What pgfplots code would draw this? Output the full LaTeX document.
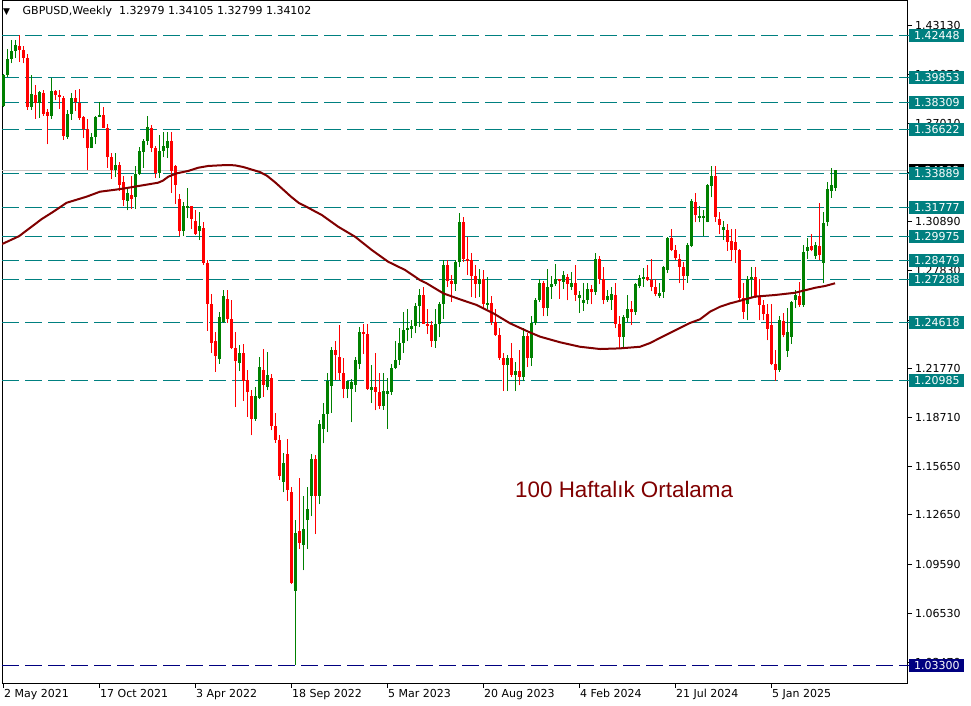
\documentclass[border=0pt]{standalone}
\usepackage{fontspec}
\setmainfont{DejaVu Sans}
\newfontfamily\arialf{Liberation Sans}
\usepackage{pgfplots}
\usepackage{pgfplotstable}
\pgfplotsset{compat=1.18}
\definecolor{mtteal}{HTML}{008080}
\definecolor{mtnavy}{HTML}{000080}
\definecolor{bull}{HTML}{008000}
\definecolor{bear}{HTML}{FF0000}
\definecolor{maline}{HTML}{800000}
\definecolor{matext}{HTML}{800000}

% weekly GBPUSD candles, i = week index from 2 May 2021
\pgfplotstableread{
i O H L C
0 1.3810 1.4010 1.3800 1.4000
1 1.4000 1.4167 1.3990 1.4100
2 1.4100 1.4220 1.4075 1.4150
3 1.4150 1.4220 1.4110 1.4190
4 1.4185 1.4250 1.4085 1.4160
5 1.4160 1.4180 1.4075 1.4110
6 1.4110 1.4135 1.3787 1.3800
7 1.3800 1.4000 1.3785 1.3885
8 1.3880 1.3940 1.3730 1.3830
9 1.3830 1.3900 1.3735 1.3895
10 1.3890 1.3910 1.3750 1.3760
11 1.3770 1.3790 1.3570 1.3745
12 1.3745 1.3985 1.3730 1.3905
13 1.3905 1.3910 1.3845 1.3875
14 1.3875 1.3910 1.3790 1.3865
15 1.3860 1.3870 1.3600 1.3620
16 1.3615 1.3785 1.3605 1.3760
17 1.3760 1.3890 1.3725 1.3860
18 1.3860 1.3910 1.3780 1.3835
19 1.3830 1.3915 1.3725 1.3735
20 1.3740 1.3750 1.3610 1.3665
21 1.3665 1.3730 1.3410 1.3545
22 1.3550 1.3640 1.3545 1.3615
23 1.3615 1.3745 1.3570 1.3740
24 1.3745 1.3835 1.3740 1.3755
25 1.3755 1.3800 1.3670 1.3675
26 1.3675 1.3700 1.3425 1.3495
27 1.3490 1.3515 1.3355 1.3410
28 1.3410 1.3515 1.3370 1.3445
29 1.3445 1.3460 1.3280 1.3320
30 1.3335 1.3375 1.3190 1.3225
31 1.3215 1.3300 1.3160 1.3270
32 1.3255 1.3375 1.3170 1.3230
33 1.3240 1.3435 1.3170 1.3385
34 1.3385 1.3555 1.3380 1.3530
35 1.3520 1.3605 1.3425 1.3590
36 1.3590 1.3750 1.3565 1.3680
37 1.3675 1.3690 1.3520 1.3550
38 1.3550 1.3560 1.3360 1.3395
39 1.3390 1.3630 1.3360 1.3530
40 1.3530 1.3645 1.3490 1.3560
41 1.3545 1.3645 1.3485 1.3590
42 1.3590 1.3645 1.3270 1.3405
43 1.3435 1.3440 1.3200 1.3320
44 1.3230 1.3260 1.3000 1.3030
45 1.3030 1.3210 1.3000 1.3185
46 1.3175 1.3300 1.3110 1.3185
47 1.3185 1.3190 1.3045 1.3105
48 1.3095 1.3160 1.3005 1.3010
49 1.3030 1.3150 1.2975 1.3065
50 1.3050 1.3090 1.2820 1.2830
51 1.2830 1.2850 1.2410 1.2575
52 1.2575 1.2640 1.2275 1.2335
53 1.2345 1.2405 1.2155 1.2255
54 1.2235 1.2525 1.2205 1.2495
55 1.2465 1.2665 1.2460 1.2630
56 1.2610 1.2665 1.2460 1.2485
57 1.2485 1.2600 1.2295 1.2305
58 1.2305 1.2405 1.1935 1.2220
59 1.2210 1.2325 1.2160 1.2270
60 1.2275 1.2330 1.1975 1.2095
61 1.2105 1.2165 1.1875 1.2030
62 1.2005 1.2045 1.1760 1.1860
63 1.1860 1.2060 1.1850 1.2005
64 1.1995 1.2245 1.1985 1.2185
65 1.2165 1.2295 1.2000 1.2070
66 1.2060 1.2280 1.2040 1.2135
67 1.2115 1.2140 1.1790 1.1820
68 1.1820 1.1900 1.1715 1.1730
69 1.1730 1.1760 1.1485 1.1505
70 1.1470 1.1650 1.1405 1.1585
71 1.1645 1.1740 1.1350 1.1420
72 1.1410 1.1440 1.0835 1.0840
73 1.0790 1.1235 1.0330 1.1150
74 1.1165 1.1495 1.1055 1.1090
75 1.1080 1.1385 1.0920 1.1175
76 1.1230 1.1440 1.1055 1.1300
77 1.1380 1.1645 1.1255 1.1615
78 1.1610 1.1640 1.1145 1.1380
79 1.1385 1.1855 1.1330 1.1830
80 1.1800 1.1960 1.1710 1.1890
81 1.1890 1.2150 1.1780 1.2095
82 1.2065 1.2310 1.1900 1.2290
83 1.2290 1.2345 1.2105 1.2260
84 1.2250 1.2445 1.2105 1.2150
85 1.2145 1.2240 1.1990 1.2050
86 1.2050 1.2085 1.1990 1.2095
87 1.2050 1.2110 1.1840 1.2090
88 1.2075 1.2245 1.2030 1.2230
89 1.2205 1.2435 1.2170 1.2400
90 1.2402 1.2450 1.2265 1.2393
91 1.2393 1.2450 1.2045 1.2050
92 1.2040 1.2195 1.1960 1.2060
93 1.2060 1.2270 1.1915 1.2030
94 1.2030 1.2150 1.1925 1.1945
95 1.1945 1.2145 1.1920 1.2035
96 1.2020 1.2115 1.1800 1.2035
97 1.2030 1.2205 1.2010 1.2180
98 1.2180 1.2345 1.2170 1.2230
99 1.2230 1.2425 1.2200 1.2335
100 1.2335 1.2525 1.2275 1.2415
101 1.2415 1.2545 1.2345 1.2425
102 1.2420 1.2475 1.2365 1.2440
103 1.2440 1.2585 1.2395 1.2565
104 1.2565 1.2670 1.2435 1.2635
105 1.2635 1.2680 1.2460 1.2450
106 1.2450 1.2545 1.2390 1.2440
107 1.2445 1.2470 1.2310 1.2345
108 1.2345 1.2545 1.2305 1.2450
109 1.2450 1.2590 1.2370 1.2575
110 1.2575 1.2850 1.2485 1.2820
111 1.2820 1.2850 1.2685 1.2720
112 1.2720 1.2760 1.2590 1.2700
113 1.2700 1.2850 1.2660 1.2840
114 1.2840 1.3145 1.2810 1.3090
115 1.3090 1.3120 1.2840 1.2855
116 1.2855 1.2995 1.2760 1.2850
117 1.2850 1.2895 1.2620 1.2750
118 1.2750 1.2820 1.2615 1.2700
119 1.2700 1.2795 1.2620 1.2735
120 1.2735 1.2790 1.2550 1.2575
121 1.2575 1.2745 1.2545 1.2585
122 1.2585 1.2625 1.2445 1.2465
123 1.2465 1.2545 1.2380 1.2385
124 1.2385 1.2425 1.2230 1.2240
125 1.2240 1.2270 1.2035 1.2200
126 1.2200 1.2260 1.2035 1.2240
127 1.2240 1.2335 1.2125 1.2135
128 1.2135 1.2215 1.2035 1.2160
129 1.2160 1.2290 1.2070 1.2125
130 1.2125 1.2430 1.2095 1.2375
131 1.2375 1.2395 1.2185 1.2240
132 1.2240 1.2505 1.2190 1.2460
133 1.2460 1.2615 1.2445 1.2605
134 1.2605 1.2735 1.2590 1.2705
135 1.2705 1.2720 1.2500 1.2550
136 1.2550 1.2795 1.2500 1.2680
137 1.2680 1.2750 1.2610 1.2700
138 1.2700 1.2825 1.2690 1.2730
139 1.2730 1.2735 1.2610 1.2720
140 1.2715 1.2785 1.2670 1.2755
141 1.2745 1.2765 1.2600 1.2700
142 1.2680 1.2775 1.2665 1.2705
143 1.2705 1.2820 1.2595 1.2635
144 1.2615 1.2660 1.2520 1.2635
145 1.2585 1.2710 1.2535 1.2605
146 1.2600 1.2710 1.2575 1.2670
147 1.2670 1.2695 1.2575 1.2650
148 1.2650 1.2895 1.2635 1.2855
149 1.2855 1.2875 1.2700 1.2735
150 1.2735 1.2805 1.2575 1.2600
151 1.2600 1.2665 1.2590 1.2625
152 1.2605 1.2680 1.2540 1.2640
153 1.2635 1.2710 1.2425 1.2450
154 1.2450 1.2500 1.2300 1.2370
155 1.2370 1.2510 1.2300 1.2495
156 1.2490 1.2635 1.2465 1.2545
157 1.2545 1.2595 1.2445 1.2525
158 1.2525 1.2710 1.2510 1.2700
159 1.2690 1.2760 1.2675 1.2740
160 1.2735 1.2800 1.2685 1.2745
161 1.2745 1.2820 1.2720 1.2725
162 1.2725 1.2860 1.2655 1.2685
163 1.2685 1.2735 1.2625 1.2640
164 1.2630 1.2710 1.2615 1.2645
165 1.2650 1.2815 1.2615 1.2810
166 1.2790 1.2995 1.2770 1.2985
167 1.2985 1.3045 1.2905 1.2915
168 1.2915 1.2945 1.2850 1.2865
169 1.2860 1.2890 1.2705 1.2805
170 1.2810 1.2840 1.2665 1.2750
171 1.2750 1.2955 1.2710 1.2945
172 1.2935 1.3230 1.2930 1.3215
173 1.3210 1.3265 1.3085 1.3130
174 1.3115 1.3190 1.3085 1.3125
175 1.3115 1.3165 1.3000 1.3125
176 1.3090 1.3325 1.3085 1.3320
177 1.3310 1.3435 1.3240 1.3375
178 1.3375 1.3435 1.3090 1.3120
179 1.3105 1.3150 1.3010 1.3070
180 1.3040 1.3095 1.2975 1.3055
181 1.3035 1.3075 1.2910 1.2960
182 1.2968 1.3045 1.2845 1.2915
183 1.2960 1.3045 1.2835 1.2915
184 1.2915 1.2920 1.2600 1.2615
185 1.2615 1.2710 1.2485 1.2530
186 1.2580 1.2750 1.2475 1.2735
187 1.2735 1.2810 1.2615 1.2745
188 1.2745 1.2810 1.2615 1.2620
189 1.2620 1.2730 1.2475 1.2570
190 1.2570 1.2605 1.2475 1.2515
191 1.2515 1.2575 1.2350 1.2420
192 1.2445 1.2575 1.2195 1.2205
193 1.2205 1.2290 1.2100 1.2165
194 1.2165 1.2500 1.2155 1.2480
195 1.2470 1.2520 1.2370 1.2385
196 1.2285 1.2550 1.2250 1.2405
197 1.2370 1.2595 1.2330 1.2590
198 1.2605 1.2665 1.2550 1.2635
199 1.2630 1.2715 1.2560 1.2570
200 1.2570 1.2945 1.2560 1.2900
201 1.2910 1.2990 1.2860 1.2935
202 1.2935 1.3015 1.2905 1.2915
203 1.2875 1.2965 1.2860 1.2945
204 1.2935 1.3205 1.2850 1.2885
205 1.2830 1.3150 1.2705 1.3080
206 1.3085 1.3335 1.3060 1.3295
207 1.3278 1.3421 1.3237 1.3318
208 1.32979 1.34105 1.32799 1.34102
}\candles

\pgfplotsset{
  candle/.style={draw=none, mark=none},
}
\tikzset{
  boxlabel/.style={text=white, anchor=west, inner xsep=5pt, inner ysep=0pt, text width=45pt, minimum height=13pt, text height=8pt, text depth=0pt},
}

\begin{document}
\fontsize{11}{13}\selectfont
\begin{tikzpicture}
\useasboundingbox (-2pt,-22pt) rectangle (969pt,683pt);
\fill[white] (-2pt,-22pt) rectangle (969pt,683pt);
\begin{axis}[
    at={(0pt,0pt)}, anchor=south west,
    scale only axis, width=905pt, height=682pt,
    xmin=-0.25, xmax=226, ymin=1.02187, ymax=1.44626,
    axis line style={black, line width=1pt},
    xtick={0,24,...,192}, xticklabel=\empty,
    ytick={1.43130,1.40070,1.37010,1.33950,1.30890,1.27830,1.24770,1.21770,1.18710,1.15650,1.12650,1.09590,1.06530,1.03470},
    yticklabel=\empty,
    xtick pos=bottom, ytick pos=right,
    tick align=outside, major tick length=5pt,
    tick style={black, line width=1pt},
    clip mode=individual,
]
% support / resistance levels
\pgfplotsinvokeforeach{1.42448,1.39853,1.38309,1.36622,1.33889,1.31777,1.29975,1.28479,1.27288,1.24618,1.20985}{
  \addplot[mtteal, line width=1pt, dash pattern=on 17pt off 6pt] coordinates {(-0.25,#1) (226,#1)};
}
\addplot[mtnavy, line width=1pt, dash pattern=on 17pt off 6pt] coordinates {(-0.25,1.03300) (226,1.03300)};
% bid line
\addplot[black!22, line width=1pt] coordinates {(-0.25,1.34102) (226,1.34102)};

% wicks
\addplot[candle, restrict expr to domain={\thisrow{C}-\thisrow{O}}{0:1},
  error bars/.cd, y dir=plus, y explicit, error mark=none, error bar style={line width=1pt, draw=bull}]
  table[x=i, y=L, y error expr=\thisrow{H}-\thisrow{L}] {\candles};
\addplot[candle, restrict expr to domain={\thisrow{C}-\thisrow{O}}{-1:-0.00001},
  error bars/.cd, y dir=plus, y explicit, error mark=none, error bar style={line width=1pt, draw=bear}]
  table[x=i, y=L, y error expr=\thisrow{H}-\thisrow{L}] {\candles};
% bodies
\addplot[candle, restrict expr to domain={\thisrow{C}-\thisrow{O}}{0:1},
  error bars/.cd, y dir=both, y explicit, error mark=none, error bar style={line width=3pt, draw=bull}]
  table[x=i, y expr=(\thisrow{O}+\thisrow{C})/2, y error expr=abs(\thisrow{C}-\thisrow{O})/2] {\candles};
\addplot[candle, restrict expr to domain={\thisrow{C}-\thisrow{O}}{-1:-0.00001},
  error bars/.cd, y dir=both, y explicit, error mark=none, error bar style={line width=3pt, draw=bear}]
  table[x=i, y expr=(\thisrow{O}+\thisrow{C})/2, y error expr=abs(\thisrow{C}-\thisrow{O})/2] {\candles};

% 100 week moving average
\addplot[maline, line width=2pt] coordinates {
(-0.25,1.2950) (4,1.2999) (9.7,1.3106) (12.5,1.3150) (15.9,1.3207) (20.9,1.3245)
(24.25,1.3276) (28,1.3288) (30.5,1.3297) (33.8,1.3311) (38.8,1.3332) (40,1.3345)
(41.3,1.3369) (43.4,1.3390) (46.3,1.3405) (48.8,1.3425) (51.3,1.3436) (54.25,1.3440)
(56,1.3442) (58,1.3440) (60,1.3430) (62,1.3415) (64.25,1.3398) (66,1.3375)
(68,1.3335) (70,1.3290) (72,1.3245) (74,1.3205) (75.5,1.3187) (77.5,1.3160)
(79.7,1.3131) (83.8,1.3058) (88,1.2996) (92.2,1.2913) (96.3,1.2840) (100.5,1.2789)
(104.25,1.2726) (105.9,1.2706) (110.1,1.2643) (114.25,1.2606) (118.4,1.2571)
(122.6,1.2519) (126.75,1.2457) (131.3,1.2405) (134.25,1.2374) (139.25,1.2339)
(144.25,1.2311) (149.25,1.2297) (154.25,1.2301) (159.25,1.2311) (161.75,1.2334)
(164.25,1.2366) (166.75,1.2397) (169.25,1.2428) (171.75,1.2459) (174.25,1.2482)
(176.75,1.2529) (179.25,1.2560) (181.75,1.2581) (184.25,1.2597) (188,1.2623)
(193,1.2633) (198,1.2647) (203,1.2678) (205.5,1.2689) (208,1.2706)
};

% header and annotation
\node[anchor=base west, inner sep=0pt, font=\fontsize{9}{9}\selectfont] at ([xshift=1pt,yshift=-14pt]rel axis cs:0,1) {▼};
\node[anchor=base west, inner sep=0pt] at ([xshift=20.5pt,yshift=-14pt]rel axis cs:0,1) {GBPUSD,Weekly\ \ 1.32979 1.34105 1.32799 1.34102};
\node[anchor=base west, inner sep=0pt, text=matext, font=\arialf\fontsize{22.4}{26}\selectfont] at (axis cs:128,1.1374) {100 Haftalık Ortalama};

% price scale
\pgfplotsinvokeforeach{1.43130,1.40070,1.37010,1.33950,1.30890,1.27830,1.24770,1.21770,1.18710,1.15650,1.12650,1.09590,1.06530,1.03470}{
  \node[anchor=west, inner sep=0pt] at ([xshift=8pt]axis cs:226,#1) {#1};
}
\node[boxlabel, fill=black] at ([xshift=2pt]axis cs:226,1.34102) {1.34102};
\pgfplotsinvokeforeach{1.42448,1.39853,1.38309,1.36622,1.33889,1.31777,1.29975,1.28479,1.27288,1.24618,1.20985}{
  \draw[mtteal, line width=1pt] (axis cs:226,#1) -- ([xshift=3pt]axis cs:226,#1);
  \node[boxlabel, fill=mtteal] at ([xshift=2pt]axis cs:226,#1) {#1};
}
\draw[mtnavy, line width=1pt] (axis cs:226,1.03300) -- ([xshift=3pt]axis cs:226,1.03300);
\node[boxlabel, fill=mtnavy] at ([xshift=2pt]axis cs:226,1.03300) {1.03300};

% time scale
\node[anchor=base west, inner sep=0pt] at ([xshift=1pt,yshift=-14pt]axis cs:0,1.02187) {2 May 2021};
\node[anchor=base west, inner sep=0pt] at ([xshift=1pt,yshift=-14pt]axis cs:24,1.02187) {17 Oct 2021};
\node[anchor=base west, inner sep=0pt] at ([xshift=1pt,yshift=-14pt]axis cs:48,1.02187) {3 Apr 2022};
\node[anchor=base west, inner sep=0pt] at ([xshift=1pt,yshift=-14pt]axis cs:72,1.02187) {18 Sep 2022};
\node[anchor=base west, inner sep=0pt] at ([xshift=1pt,yshift=-14pt]axis cs:96,1.02187) {5 Mar 2023};
\node[anchor=base west, inner sep=0pt] at ([xshift=1pt,yshift=-14pt]axis cs:120,1.02187) {20 Aug 2023};
\node[anchor=base west, inner sep=0pt] at ([xshift=1pt,yshift=-14pt]axis cs:144,1.02187) {4 Feb 2024};
\node[anchor=base west, inner sep=0pt] at ([xshift=1pt,yshift=-14pt]axis cs:168,1.02187) {21 Jul 2024};
\node[anchor=base west, inner sep=0pt] at ([xshift=1pt,yshift=-14pt]axis cs:192,1.02187) {5 Jan 2025};
\end{axis}
\end{tikzpicture}
\end{document}
